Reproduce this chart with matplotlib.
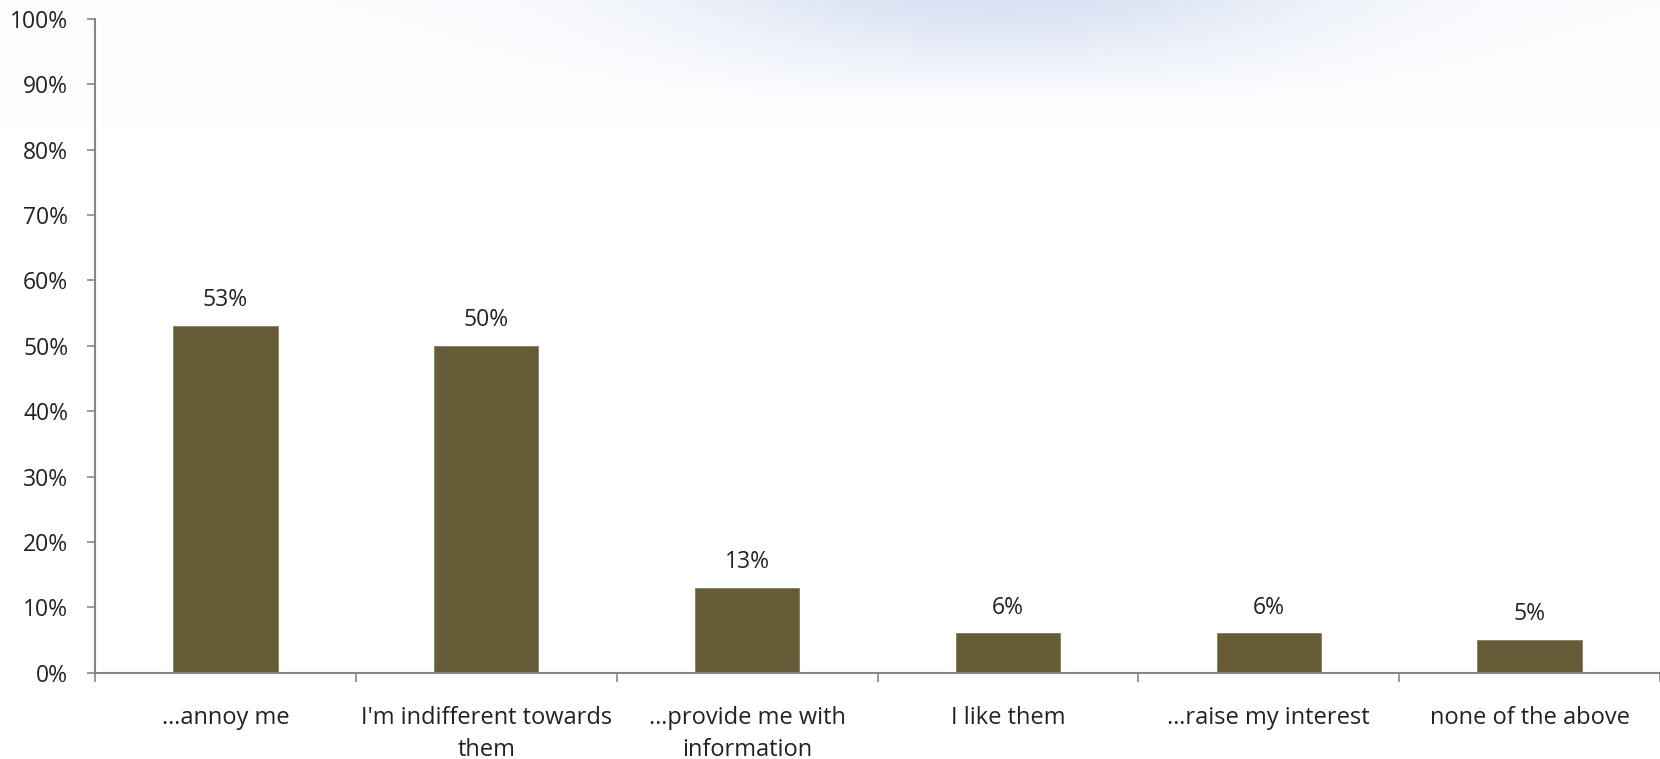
import matplotlib
matplotlib.use("Agg")
import matplotlib.pyplot as plt
import numpy as np

categories = ["…annoy me", "I'm indifferent towards\nthem", "…provide me with\ninformation",
              "I like them", "…raise my interest", "none of the above"]
values = [53, 50, 13, 6, 6, 5]
yticks = [0, 10, 20, 30, 40, 50, 60, 70, 80, 90, 100]

plt.rcParams['font.family'] = ['Open Sans', 'DejaVu Sans']
W, H = 1660, 759
fig = plt.figure(figsize=(W / 100, H / 100), dpi=100)

# decorative faint background at top
bg = fig.add_axes([0, 0, 1, 1], zorder=-10)
yy, xx = np.mgrid[0:H, 0:W]
blue = np.exp(-((xx - 1000) / 330.0) ** 2) * np.clip(1 - yy / 110.0, 0, 1)
grey = np.clip(1 - yy / 130.0, 0, 1) * 0.35
strength = np.clip(blue * 0.9 + grey * 0.25, 0, 1)
base = np.ones((H, W, 3))
tint = np.array([0.84, 0.88, 0.95])
img = base * (1 - strength[..., None]) + tint * strength[..., None]
bg.imshow(img, aspect='auto', extent=[0, W, H, 0])
bg.axis('off')

left, right = 95 / W, 1660 / W
bottom, top = (H - 672.7) / H, (H - 19) / H
ax = fig.add_axes([left, bottom, right - left, top - bottom])
ax.patch.set_alpha(0)

x = np.arange(len(categories))
bars = ax.bar(x, values, width=0.4, color='#665C38', edgecolor='#857a5a', linewidth=0.6)
for xi, v in zip(x, values):
    ax.annotate(f"{v}%", (xi, v), xytext=(0, 10), textcoords='offset points',
                ha='center', va='bottom', fontsize=16.5, color='#222222')

ax.set_xlim(-0.5, len(categories) - 0.5)
ax.set_ylim(0, 100)
ax.set_yticks(yticks)
ax.set_yticklabels([f"{t}%" for t in yticks], fontsize=16.5, color='#222222')
ax.set_xticks(x)
ax.set_xticklabels(categories, fontsize=17, color='#222222', linespacing=1.45)
ax.tick_params(axis='x', length=0, pad=24)
ax.set_xticks(np.arange(len(categories) + 1) - 0.5, minor=True)
ax.tick_params(axis='x', which='minor', length=6.5, color='#868686', width=1.2)
ax.tick_params(axis='y', length=5.8, color='#868686', width=1.2, pad=13.5)
for s in ['top', 'right']:
    ax.spines[s].set_visible(False)
for s in ['left', 'bottom']:
    ax.spines[s].set_color('#868686')
    ax.spines[s].set_linewidth(1.5)

fig.savefig("out.png", dpi=100)
